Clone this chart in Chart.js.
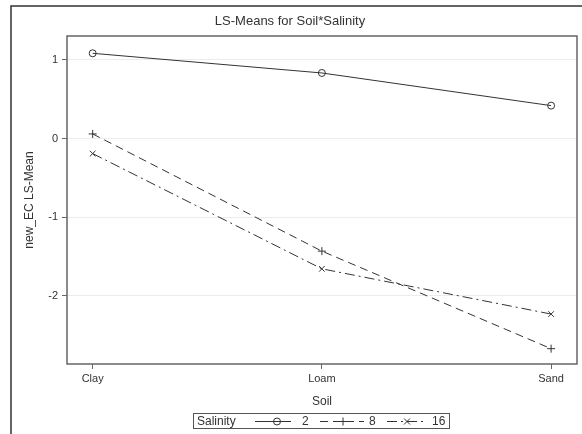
<!DOCTYPE html>
<html>
<head>
<meta charset="utf-8">
<script src="https://cdn.jsdelivr.net/npm/chart.js@4"></script>
<style>
  html, body { margin: 0; padding: 0; background: #fff; }
  #wrap { width: 582px; height: 434px; }
</style>
</head>
<body>
<div id="wrap"><canvas id="lsChart" width="582" height="434"></canvas></div>
<script>
const soils = ['Clay', 'Loam', 'Sand'];
const salinity = ['2', '8', '16'];
const means2 = [1.085, 0.835, 0.42];
const means8 = [0.06, -1.43, -2.67];
const means16 = [-0.19, -1.655, -2.23];
const yTicks = [-2, -1, 0, 1];

const FONT = "'Liberation Sans', Arial, sans-serif";
const INK = '#333';

function pts(vals) {
  return vals.map((v, i) => ({ x: i, y: v }));
}

// draws a marker like the chart's own ones (used in the legend)
function marker(ctx, style, x, y, r) {
  ctx.beginPath();
  if (style === 'circle') {
    ctx.arc(x, y, r, 0, Math.PI * 2);
  } else if (style === 'cross') {
    ctx.moveTo(x - r, y); ctx.lineTo(x + r, y);
    ctx.moveTo(x, y - r); ctx.lineTo(x, y + r);
  } else {
    const d = r * 0.75;
    ctx.moveTo(x - d, y - d); ctx.lineTo(x + d, y + d);
    ctx.moveTo(x + d, y - d); ctx.lineTo(x - d, y + d);
  }
  ctx.stroke();
}

const framePlugin = {
  id: 'frame',
  afterDraw(chart) {
    const ctx = chart.ctx;
    const a = chart.chartArea;
    ctx.save();
    // outer frame (left and top)
    ctx.strokeStyle = '#333';
    ctx.lineWidth = 1.5;
    ctx.beginPath();
    ctx.moveTo(11, 434); ctx.lineTo(11, 6); ctx.lineTo(582, 6);
    ctx.stroke();
    // plot frame
    ctx.strokeStyle = '#666';
    ctx.lineWidth = 1.5;
    ctx.strokeRect(a.left, a.top, a.right - a.left, a.bottom - a.top);
    // title
    ctx.fillStyle = INK;
    ctx.font = '13px ' + FONT;
    ctx.textAlign = 'center';
    ctx.textBaseline = 'middle';
    ctx.fillText('LS-Means for Soil*Salinity', 290, 21);

    // legend
    ctx.strokeStyle = '#555';
    ctx.lineWidth = 1;
    ctx.strokeRect(193.5, 413.5, 256, 15);
    ctx.font = '12px ' + FONT;
    ctx.textAlign = 'left';
    ctx.fillText('Salinity', 197, 421.5);
    const spots = [[255, 291, 277, 302], [320, 364, 343, 369], [387, 425, 407, 432]];
    chart.data.datasets.forEach((ds, i) => {
      const s = spots[i];
      ctx.strokeStyle = INK;
      ctx.lineWidth = 1;
      ctx.setLineDash(ds.borderDash || []);
      ctx.beginPath();
      ctx.moveTo(s[0], 421.5); ctx.lineTo(s[1], 421.5);
      ctx.stroke();
      ctx.setLineDash([]);
      marker(ctx, ds.pointStyle, s[2], 421.5, ds.pointRadius);
      ctx.fillText(ds.label, s[3], 421.5);
    });
    ctx.restore();
  }
};

new Chart(document.getElementById('lsChart'), {
  type: 'line',
  data: {
    datasets: [
      {
        label: salinity[0],
        data: pts(means2),
        borderColor: INK,
        borderWidth: 1,
        pointStyle: 'circle',
        pointRadius: 3.5,
        pointBorderColor: INK,
        pointBackgroundColor: 'rgba(0,0,0,0)',
        pointBorderWidth: 1
      },
      {
        label: salinity[1],
        data: pts(means8),
        borderColor: INK,
        borderWidth: 1,
        borderDash: [8, 5],
        pointStyle: 'cross',
        pointRadius: 4,
        pointBorderColor: INK,
        pointBorderWidth: 1
      },
      {
        label: salinity[2],
        data: pts(means16),
        borderColor: INK,
        borderWidth: 1,
        borderDash: [10, 4, 2, 4],
        pointStyle: 'crossRot',
        pointRadius: 4,
        pointBorderColor: INK,
        pointBorderWidth: 1
      }
    ]
  },
  options: {
    responsive: false,
    animation: false,
    layout: { padding: { left: 12, right: 4, top: 36, bottom: 25 } },
    plugins: {
      legend: { display: false },
      title: { display: false },
      tooltip: { enabled: false }
    },
    scales: {
      x: {
        type: 'linear',
        min: -0.112,
        max: 2.113,
        afterFit(scale) { scale.height = 45; },
        afterBuildTicks(scale) { scale.ticks = soils.map((s, i) => ({ value: i })); },
        ticks: {
          callback: (v) => soils[v] || '',
          color: INK,
          font: { family: FONT, size: 11 },
          padding: 3,
          maxRotation: 0
        },
        grid: { drawOnChartArea: false, tickLength: 5, tickColor: '#666' },
        border: { display: false },
        title: {
          display: true,
          text: 'Soil',
          color: INK,
          font: { family: FONT, size: 12 },
          padding: { top: 0, bottom: 0 }
        }
      },
      y: {
        min: -2.865,
        max: 1.305,
        afterFit(scale) { scale.width = 55; },
        afterBuildTicks(scale) { scale.ticks = yTicks.map(v => ({ value: v })); },
        ticks: {
          color: INK,
          font: { family: FONT, size: 11 },
          padding: 4
        },
        grid: { color: '#ececec', tickLength: 5, tickColor: '#666' },
        border: { display: false },
        title: {
          display: true,
          text: 'new_EC LS-Mean',
          color: INK,
          font: { family: FONT, size: 12 },
          padding: { top: 10, bottom: 0 }
        }
      }
    }
  },
  plugins: [framePlugin]
});
</script>
</body>
</html>
